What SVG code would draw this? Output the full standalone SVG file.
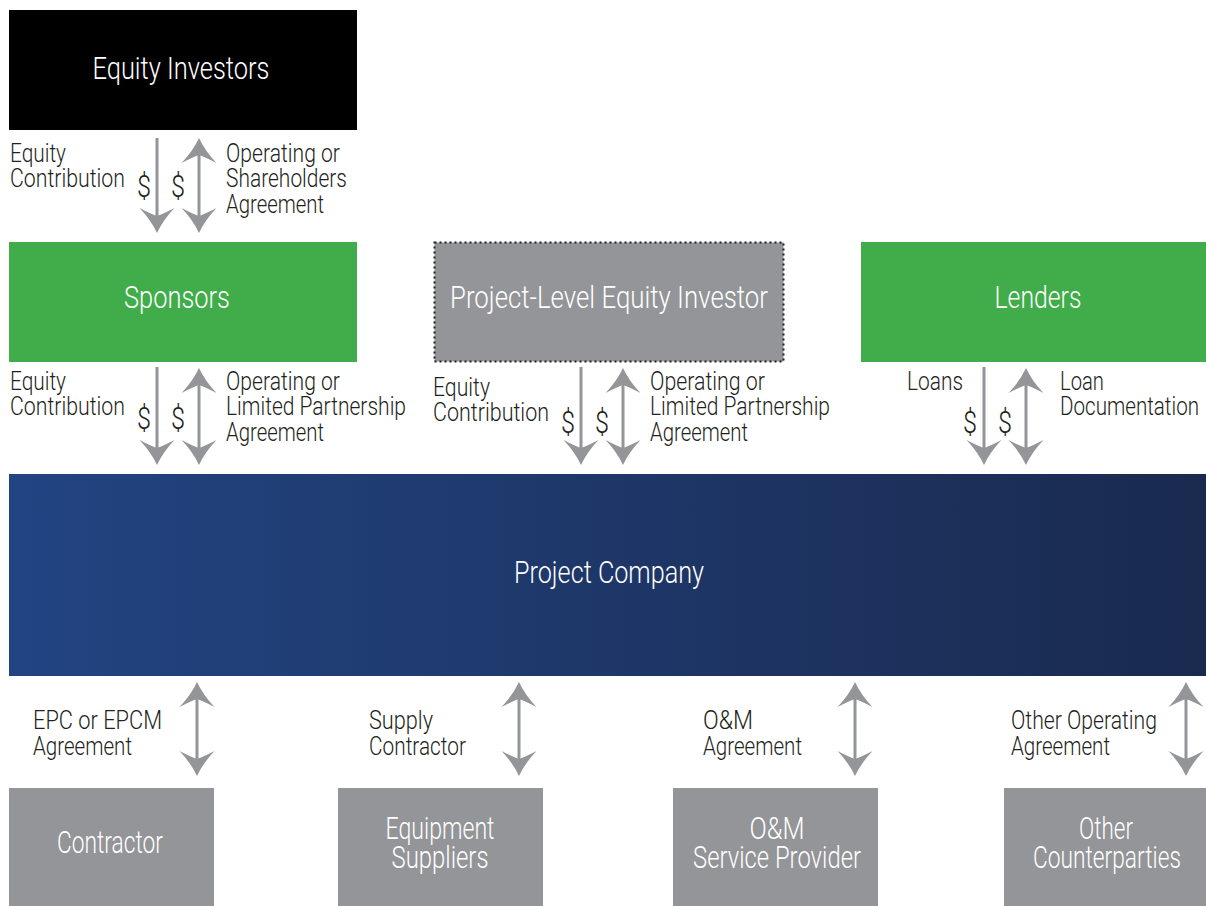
<svg xmlns="http://www.w3.org/2000/svg" width="1206" height="906" viewBox="0 0 1206 906">
<defs>
<linearGradient id="pc" x1="0" y1="0" x2="1" y2="0">
<stop offset="0" stop-color="#224482"/>
<stop offset="1" stop-color="#1a2a4f"/>
</linearGradient>
<marker id="ah" markerUnits="userSpaceOnUse" viewBox="-28 -20 30 40" refX="-10" refY="0" markerWidth="30" markerHeight="40" orient="auto-start-reverse">
<path d="M0,0 Q-13,-6 -25,-17.5 Q-19,-6 -17,0 Q-19,6 -25,17.5 Q-13,6 0,0 Z" fill="#939598"/>
</marker>
<style>
text{font-family:Roboto,"Liberation Sans",Arial,sans-serif;font-weight:300}
.lbl{font-size:25px;fill:#231f20}
.dol{font-size:31px;fill:#231f20}
.nt{font-size:31px;fill:#ffffff;text-anchor:middle}
.gb{fill:#939598}
.gr{fill:#40ad4a}
.ar{stroke:#939598;stroke-width:3;fill:none}
</style>
</defs>
<rect width="1206" height="906" fill="#ffffff"/>

<g id="equity-investors">
<rect x="9" y="10" width="348" height="120" fill="#000000"/>
<text class="nt" x="181" y="79" textLength="177" lengthAdjust="spacingAndGlyphs">Equity Investors</text>
</g>
<g id="sponsors">
<rect class="gr" x="9" y="242" width="348" height="120"/>
<text class="nt" x="177" y="308" textLength="106" lengthAdjust="spacingAndGlyphs">Sponsors</text>
</g>
<g id="project-level-equity-investor">
<rect class="gb" x="434.5" y="242.5" width="349" height="119" stroke="#231f20" stroke-width="2" stroke-dasharray="2 3"/>
<text class="nt" x="609" y="308" textLength="318" lengthAdjust="spacingAndGlyphs">Project-Level Equity Investor</text>
</g>
<g id="lenders">
<rect class="gr" x="861" y="242" width="345" height="120"/>
<text class="nt" x="1038" y="308" textLength="87" lengthAdjust="spacingAndGlyphs">Lenders</text>
</g>
<g id="project-company">
<rect x="9" y="474" width="1197" height="202" fill="url(#pc)"/>
<text class="nt" x="609" y="583" textLength="190" lengthAdjust="spacingAndGlyphs">Project Company</text>
</g>
<g id="contractor">
<rect class="gb" x="9" y="788" width="205" height="118"/>
<text class="nt" x="110" y="853" textLength="106" lengthAdjust="spacingAndGlyphs">Contractor</text>
</g>
<g id="equipment-suppliers">
<rect class="gb" x="338" y="788" width="205" height="118"/>
<text class="nt" x="440" y="839" textLength="109" lengthAdjust="spacingAndGlyphs">Equipment</text>
<text class="nt" x="440" y="868" textLength="97" lengthAdjust="spacingAndGlyphs">Suppliers</text>
</g>
<g id="om-service-provider">
<rect class="gb" x="673" y="788" width="205" height="118"/>
<text class="nt" x="777" y="839" textLength="55" lengthAdjust="spacingAndGlyphs">O&amp;M</text>
<text class="nt" x="777" y="868" textLength="168" lengthAdjust="spacingAndGlyphs">Service Provider</text>
</g>
<g id="other-counterparties">
<rect class="gb" x="1004" y="788" width="202" height="118"/>
<text class="nt" x="1106" y="839" textLength="54" lengthAdjust="spacingAndGlyphs">Other</text>
<text class="nt" x="1107" y="868" textLength="148" lengthAdjust="spacingAndGlyphs">Counterparties</text>
</g>

<g id="connectors">
<line class="ar" x1="157" y1="138" x2="157" y2="223" marker-end="url(#ah)"/>
<line class="ar" x1="199" y1="148" x2="199" y2="223" marker-start="url(#ah)" marker-end="url(#ah)"/>
<line class="ar" x1="157" y1="367" x2="157" y2="455" marker-end="url(#ah)"/>
<line class="ar" x1="199" y1="378" x2="199" y2="455" marker-start="url(#ah)" marker-end="url(#ah)"/>
<line class="ar" x1="581" y1="367" x2="581" y2="455" marker-end="url(#ah)"/>
<line class="ar" x1="623" y1="378" x2="623" y2="455" marker-start="url(#ah)" marker-end="url(#ah)"/>
<line class="ar" x1="984" y1="367" x2="984" y2="455" marker-end="url(#ah)"/>
<line class="ar" x1="1026" y1="378" x2="1026" y2="455" marker-start="url(#ah)" marker-end="url(#ah)"/>
<line class="ar" x1="197" y1="692" x2="197" y2="766" marker-start="url(#ah)" marker-end="url(#ah)"/>
<line class="ar" x1="519" y1="692" x2="519" y2="766" marker-start="url(#ah)" marker-end="url(#ah)"/>
<line class="ar" x1="855" y1="692" x2="855" y2="766" marker-start="url(#ah)" marker-end="url(#ah)"/>
<line class="ar" x1="1186" y1="692" x2="1186" y2="766" marker-start="url(#ah)" marker-end="url(#ah)"/>
</g>

<g id="labels">
<text class="lbl" x="10" y="162" textLength="56" lengthAdjust="spacingAndGlyphs">Equity</text>
<text class="lbl" x="10" y="187" textLength="115" lengthAdjust="spacingAndGlyphs">Contribution</text>
<text class="dol" x="137" y="197" textLength="14" lengthAdjust="spacingAndGlyphs">$</text>
<text class="dol" x="171" y="197" textLength="14" lengthAdjust="spacingAndGlyphs">$</text>
<text class="lbl" x="226" y="162" textLength="114" lengthAdjust="spacingAndGlyphs">Operating or</text>
<text class="lbl" x="226" y="187" textLength="121" lengthAdjust="spacingAndGlyphs">Shareholders</text>
<text class="lbl" x="226" y="213" textLength="98" lengthAdjust="spacingAndGlyphs">Agreement</text>

<text class="lbl" x="10" y="390" textLength="56" lengthAdjust="spacingAndGlyphs">Equity</text>
<text class="lbl" x="10" y="415" textLength="115" lengthAdjust="spacingAndGlyphs">Contribution</text>
<text class="dol" x="137" y="429" textLength="14" lengthAdjust="spacingAndGlyphs">$</text>
<text class="dol" x="171" y="429" textLength="14" lengthAdjust="spacingAndGlyphs">$</text>
<text class="lbl" x="226" y="390" textLength="114" lengthAdjust="spacingAndGlyphs">Operating or</text>
<text class="lbl" x="226" y="415" textLength="180" lengthAdjust="spacingAndGlyphs">Limited Partnership</text>
<text class="lbl" x="226" y="441" textLength="98" lengthAdjust="spacingAndGlyphs">Agreement</text>

<text class="lbl" x="433" y="396" textLength="57" lengthAdjust="spacingAndGlyphs">Equity</text>
<text class="lbl" x="433" y="421" textLength="116" lengthAdjust="spacingAndGlyphs">Contribution</text>
<text class="dol" x="561" y="433" textLength="14" lengthAdjust="spacingAndGlyphs">$</text>
<text class="dol" x="595" y="433" textLength="14" lengthAdjust="spacingAndGlyphs">$</text>
<text class="lbl" x="650" y="390" textLength="115" lengthAdjust="spacingAndGlyphs">Operating or</text>
<text class="lbl" x="650" y="415" textLength="180" lengthAdjust="spacingAndGlyphs">Limited Partnership</text>
<text class="lbl" x="650" y="441" textLength="98" lengthAdjust="spacingAndGlyphs">Agreement</text>

<text class="lbl" x="907" y="390" textLength="56" lengthAdjust="spacingAndGlyphs">Loans</text>
<text class="dol" x="963" y="433" textLength="14" lengthAdjust="spacingAndGlyphs">$</text>
<text class="dol" x="998" y="433" textLength="14" lengthAdjust="spacingAndGlyphs">$</text>
<text class="lbl" x="1060" y="390" textLength="44" lengthAdjust="spacingAndGlyphs">Loan</text>
<text class="lbl" x="1060" y="415" textLength="139" lengthAdjust="spacingAndGlyphs">Documentation</text>

<text class="lbl" x="33" y="729" textLength="129" lengthAdjust="spacingAndGlyphs">EPC or EPCM</text>
<text class="lbl" x="33" y="755" textLength="99" lengthAdjust="spacingAndGlyphs">Agreement</text>
<text class="lbl" x="369" y="729" textLength="64" lengthAdjust="spacingAndGlyphs">Supply</text>
<text class="lbl" x="369" y="755" textLength="97" lengthAdjust="spacingAndGlyphs">Contractor</text>
<text class="lbl" x="703" y="729" textLength="50" lengthAdjust="spacingAndGlyphs">O&amp;M</text>
<text class="lbl" x="703" y="755" textLength="99" lengthAdjust="spacingAndGlyphs">Agreement</text>
<text class="lbl" x="1011" y="729" textLength="146" lengthAdjust="spacingAndGlyphs">Other Operating</text>
<text class="lbl" x="1011" y="755" textLength="99" lengthAdjust="spacingAndGlyphs">Agreement</text>
</g>
</svg>
